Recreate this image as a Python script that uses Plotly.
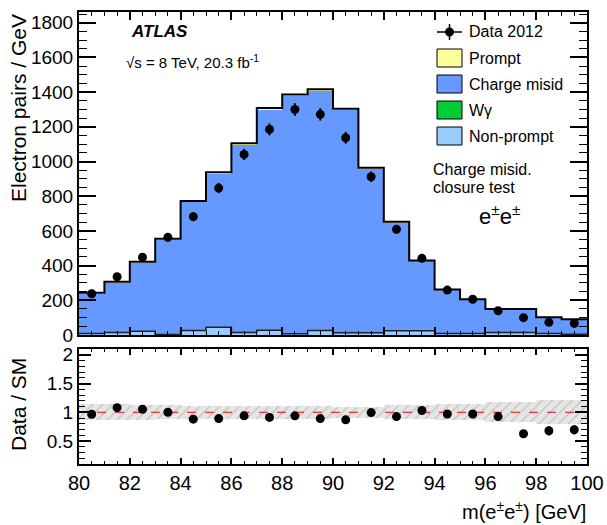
import numpy as np
import plotly.graph_objects as go

# ---------------- data ----------------
bin_lo = [80, 81, 82, 83, 84, 85, 86, 87, 88, 89, 90, 91, 92, 93, 94, 95, 96, 97, 98, 99]
data = [238, 336, 448, 563, 682, 847, 1041, 1185, 1300, 1272, 1137, 912, 609, 442, 259, 206, 140, 100, 73, 67]
data_err = [15, 18, 21, 24, 26, 29, 32, 34, 36, 36, 34, 30, 25, 21, 16, 14, 12, 10, 9, 8]
nonprompt = [8, 14, 22, 3, 26, 44, 14, 27, 7, 26, 13, 13, 24, 24, 8, 8, 14, 14, 8, 4]
wgamma = [1, 1, 1, 0, 1, 2, 1, 1, 1, 1, 1, 1, 1, 1, 0, 0, 1, 1, 0, 0]
chargemisid = [232, 289, 395, 548, 740, 886, 1084, 1273, 1372, 1382, 1284, 945, 624, 402, 253, 196, 133, 133, 94, 86]
prompt = [3, 3, 4, 4, 5, 6, 6, 7, 7, 7, 6, 5, 4, 3, 2, 2, 2, 2, 1, 1]
ratio = [0.966, 1.08, 1.052, 1.0, 0.88, 0.89, 0.937, 0.91, 0.937, 0.89,
         0.868, 0.994, 0.925, 1.03, 0.97, 0.97, 0.925, 0.626, 0.678, 0.695]
ratio_err = [0.03, 0.03, 0.03, 0.03, 0.03, 0.03, 0.03, 0.03, 0.03, 0.03,
             0.03, 0.03, 0.03, 0.04, 0.05, 0.05, 0.06, 0.06, 0.08, 0.08]
band = [0.14, 0.14, 0.13, 0.12, 0.11, 0.11, 0.11, 0.11, 0.11, 0.11,
        0.10, 0.10, 0.12, 0.12, 0.14, 0.14, 0.17, 0.17, 0.21, 0.21]
x_ticks = [80, 82, 84, 86, 88, 90, 92, 94, 96, 98, 100]

centers = [b + 0.5 for b in bin_lo]
edges = bin_lo + [bin_lo[-1] + 1]

C_PROMPT = "#ffff99"
C_MISID = "#6699ff"
C_WG = "#00cc33"
C_NP = "#99ccff"

# ---------------- geometry helpers (pixels -> paper) ----------------
W, H = 607, 525
L, R, T, B = 79, 20, 12, 61
PW, PH = W - L - R, H - T - B


def px(x):
    return (x - L) / PW


def py(y):
    return (H - B - y) / PH


FONT = "Liberation Sans, Arial, Helvetica, sans-serif"

fig = go.Figure()

# stacked histogram (bottom -> top)
for name, vals, col in [("Non-prompt", nonprompt, C_NP), ("Wγ", wgamma, C_WG),
                        ("Charge misid", chargemisid, C_MISID), ("Prompt", prompt, C_PROMPT)]:
    fig.add_trace(go.Bar(x=centers, y=vals, width=1.0, marker=dict(color=col, line=dict(width=0)),
                         name=name, showlegend=False, xaxis="x", yaxis="y"))

total = np.array(nonprompt) + np.array(wgamma) + np.array(chargemisid) + np.array(prompt)
low = np.array(nonprompt)
fig.add_trace(go.Scatter(x=edges, y=list(low) + [low[-1]], mode="lines", line=dict(color="#222", width=1.5, shape="hv"),
                         showlegend=False, xaxis="x", yaxis="y"))
fig.add_trace(go.Scatter(x=edges, y=list(total) + [total[-1]], mode="lines", line=dict(color="black", width=2, shape="hv"),
                         showlegend=False, xaxis="x", yaxis="y"))

# data
fig.add_trace(go.Scatter(x=centers, y=data, mode="markers",
                         marker=dict(color="black", size=9),
                         error_y=dict(type="data", array=data_err, color="black", thickness=2, width=0),
                         showlegend=False, xaxis="x", yaxis="y"))

# ratio band
fig.add_trace(go.Bar(x=centers, y=[2 * b for b in band], base=[1 - b for b in band], width=1.0,
                     marker=dict(color="#e6e6e6", line=dict(width=0),
                                 pattern=dict(shape="/", fgcolor="#8c8c8c", bgcolor="#e6e6e6", size=7, solidity=0.15)),
                     showlegend=False, xaxis="x2", yaxis="y2"))
fig.add_trace(go.Scatter(x=[edges[0], edges[-1]], y=[1, 1], mode="lines",
                         line=dict(color="red", width=1.2, dash="dash"), showlegend=False, xaxis="x2", yaxis="y2"))
fig.add_trace(go.Scatter(x=centers, y=ratio, mode="markers",
                         marker=dict(color="black", size=9),
                         error_y=dict(type="data", array=ratio_err, color="black", thickness=2, width=0),
                         showlegend=False, xaxis="x2", yaxis="y2"))

top_bottom = py(335)
rat_top = py(349)

axis_common = dict(showline=True, linecolor="black", linewidth=2, mirror="allticks", ticks="inside",
                   showgrid=False, zeroline=False, tickcolor="black", tickwidth=1.5, automargin=False,
                   tickfont=dict(family=FONT, size=19, color="black"))

fig.update_layout(
    width=W, height=H, autosize=False, margin=dict(l=L, r=R, t=T, b=B, autoexpand=False),
    paper_bgcolor="white", plot_bgcolor="white", barmode="stack", bargap=0,
    showlegend=False,
    xaxis=dict(domain=[0, 1], range=[80, 100], anchor="y", tickvals=x_ticks, showticklabels=False,
               ticklen=8, minor=dict(ticks="inside", dtick=0.5, tick0=80, ticklen=4, tickcolor="black", tickwidth=1.2),
               **axis_common),
    yaxis=dict(domain=[top_bottom, 1], range=[0, 1862], anchor="x", dtick=200, tick0=0, ticklen=17,
               minor=dict(ticks="inside", dtick=50, ticklen=8, tickcolor="black", tickwidth=1.2),
               **axis_common),
    xaxis2=dict(domain=[0, 1], range=[80, 100], anchor="y2", tickvals=x_ticks, ticklen=6,
                minor=dict(ticks="inside", dtick=0.5, tick0=80, ticklen=3, tickcolor="black", tickwidth=1.2),
                **{**axis_common, "tickfont": dict(family=FONT, size=20, color="black")}),
    yaxis2=dict(domain=[0, rat_top], range=[0.1, 2.1], anchor="x2", tickvals=[0.5, 1, 1.5, 2],
                ticktext=["0.5", "1", "1.5", "2"], ticklen=12,
                minor=dict(ticks="inside", dtick=0.1, tick0=0, ticklen=6, tickcolor="black", tickwidth=1.2),
                **axis_common),
)

ann = []


def text(x, y, s, size, xanchor="left", yanchor="middle", angle=0, **kw):
    ann.append(dict(x=px(x), y=py(y), xref="paper", yref="paper", text=s, showarrow=False,
                    xanchor=xanchor, yanchor=yanchor, textangle=angle,
                    font=dict(family=FONT, size=size, color="black"), **kw))


text(18, 108, "Electron pairs / GeV", 21, xanchor="center", angle=-90)
text(18, 405, "Data / SM", 21, xanchor="center", angle=-90)
text(588, 510, "m(e<sup>±</sup>e<sup>±</sup>) [GeV]", 20, xanchor="right")
text(129, 32, "<b><i>ATLAS</i></b>", 17)
text(124, 62, "√s = 8 TeV, 20.3 fb<sup>-1</sup>", 15)
text(431, 169, "Charge misid.", 16)
text(431, 187, "closure test", 16)
text(477, 215, "e<sup>±</sup>e<sup>±</sup>", 22)

# legend (manual, ROOT style)
shapes = []
leg_x0, leg_x1 = 437, 462
rows = [32, 58, 84, 110, 136]
labels = ["Data 2012", "Prompt", "Charge misid", "Wγ", "Non-prompt"]
fills = [None, C_PROMPT, C_MISID, C_WG, C_NP]
for yy, lab, col in zip(rows, labels, fills):
    if col is None:
        shapes.append(dict(type="line", xref="paper", yref="paper", x0=px(leg_x0), x1=px(leg_x1), y0=py(yy), y1=py(yy),
                           line=dict(color="black", width=1.5)))
        shapes.append(dict(type="line", xref="paper", yref="paper", x0=px(449.5), x1=px(449.5), y0=py(yy - 8), y1=py(yy + 8),
                           line=dict(color="black", width=1.5)))
        shapes.append(dict(type="circle", xref="paper", yref="paper", x0=px(445), x1=px(454), y0=py(yy + 4.5), y1=py(yy - 4.5),
                           fillcolor="black", line=dict(color="black", width=0)))
    else:
        shapes.append(dict(type="rect", xref="paper", yref="paper", x0=px(leg_x0), x1=px(leg_x1), y0=py(yy + 9), y1=py(yy - 9),
                           fillcolor=col, line=dict(color="black", width=1)))
    text(467, yy, lab, 16)

fig.update_layout(annotations=ann, shapes=shapes)

fig.write_html("out.html",
               config={"displayModeBar": False, "responsive": False},
               post_script="document.documentElement.style.overflow='hidden';"
                           "document.body.style.margin='0px';document.body.style.overflow='hidden';")
